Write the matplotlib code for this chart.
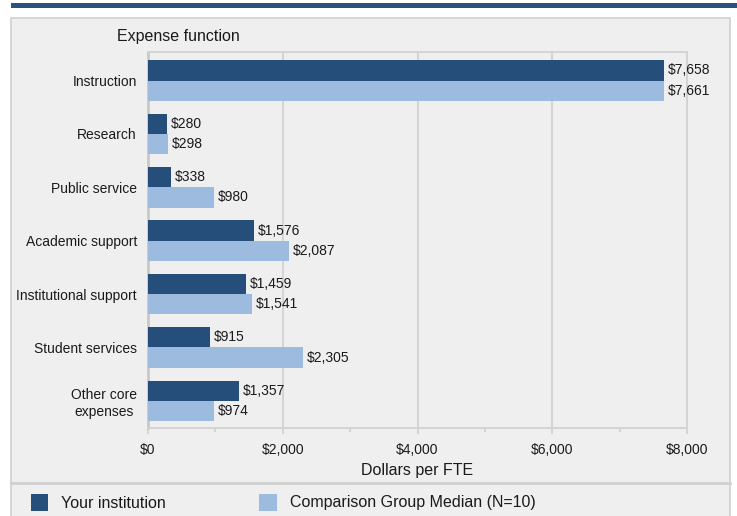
import matplotlib
matplotlib.use("Agg")
import matplotlib.pyplot as plt
from matplotlib.patches import Rectangle
from matplotlib.lines import Line2D
import numpy as np

plt.rcParams['font.family'] = ['Liberation Sans', 'DejaVu Sans']

categories = ["Instruction", "Research", "Public service", "Academic support",
              "Institutional support", "Student services", "Other core\nexpenses"]
your_inst = [7658, 280, 338, 1576, 1459, 915, 1357]
comparison = [7661, 298, 980, 2087, 1541, 2305, 974]
xticks = [0, 2000, 4000, 6000, 8000]
xticklabels = ["$0", "$2,000", "$4,000", "$6,000", "$8,000"]
series_names = ["Your institution", "Comparison Group Median (N=10)"]

dark = "#264e7b"
light = "#9dbbdf"
panel_bg = "#efefef"
txt = "#1a1a1a"
W, H = 737, 516

fig = plt.figure(figsize=(W/100, H/100), dpi=100)
fig.patch.set_facecolor("white")

def fx(px): return px / W
def fy(py): return 1 - py / H

# top band
fig.patches.append(Rectangle((fx(11), fy(7.5)), 1, 4.2/H, transform=fig.transFigure,
                             facecolor="#2b5180", edgecolor="none", zorder=-10))
# panel
fig.patches.append(Rectangle((fx(11), fy(522)), fx(719), 504/H, transform=fig.transFigure,
                             facecolor=panel_bg, edgecolor="#d0d0d0", linewidth=1.2, zorder=-10))
# divider above legend
fig.lines.append(Line2D([fx(11), fx(730)], [fy(482.5), fy(482.5)], transform=fig.transFigure,
                        color="#d0d0d0", linewidth=2, zorder=-9))

ax = fig.add_axes([fx(148), fy(427.5), fx(687-148), (427.5-51.7)/H])
ax.set_zorder(5)
ax.set_facecolor(panel_bg)
n = len(categories)
y = np.arange(n)
bh = 0.38
ax.barh(y - bh/2, your_inst, height=bh, color=dark, zorder=3)
ax.barh(y + bh/2, comparison, height=bh, color=light, zorder=3)
for yi, v in zip(y, your_inst):
    ax.text(v + 55, yi - bh/2, f"${v:,}", va="center", ha="left", fontsize=10, color=txt, zorder=4)
for yi, v in zip(y, comparison):
    ax.text(v + 55, yi + bh/2, f"${v:,}", va="center", ha="left", fontsize=10, color=txt, zorder=4)

ax.set_ylim(n - 0.5, -0.54)
ax.set_xlim(0, 8000)
ax.set_yticks(y)
ax.set_yticklabels(categories, fontsize=10, color=txt, ha="right", multialignment="center")
ax.set_xticks(xticks)
ax.set_xticklabels(xticklabels, fontsize=10, color=txt)
ax.set_xticks([1000, 3000, 5000, 7000], minor=True)
ax.tick_params(axis="y", length=0, pad=8)
ax.tick_params(axis="x", which="major", length=4.5, width=1.2, color="#d0d0d0", pad=7)
ax.tick_params(axis="x", which="minor", length=3, width=1.2, color="#d0d0d0")
ax.grid(axis="x", color="#d4d4d4", linewidth=1.4, zorder=0)
for s in ["top", "right", "bottom"]:
    ax.spines[s].set_color("#d4d4d4")
    ax.spines[s].set_linewidth(1.4)
ax.spines["left"].set_color("#c8c8c8")
ax.spines["left"].set_linewidth(2)
ax.set_xlabel("Dollars per FTE", fontsize=11.5, color=txt, labelpad=4)

fig.text(fx(117), fy(36.5), "Expense function", fontsize=11.5, va="center", ha="left", color=txt)

# legend
fig.patches.append(Rectangle((fx(31), fy(511)), fx(17), 17/H, transform=fig.transFigure,
                             facecolor=dark, edgecolor="none"))
fig.text(fx(61.5), fy(503), series_names[0], fontsize=11.5, va="center", ha="left", color=txt)
fig.patches.append(Rectangle((fx(259), fy(511)), fx(18), 17/H, transform=fig.transFigure,
                             facecolor=light, edgecolor="none"))
fig.text(fx(290), fy(503), series_names[1], fontsize=11.5, va="center", ha="left", color=txt)

fig.savefig("out.png", dpi=100)
